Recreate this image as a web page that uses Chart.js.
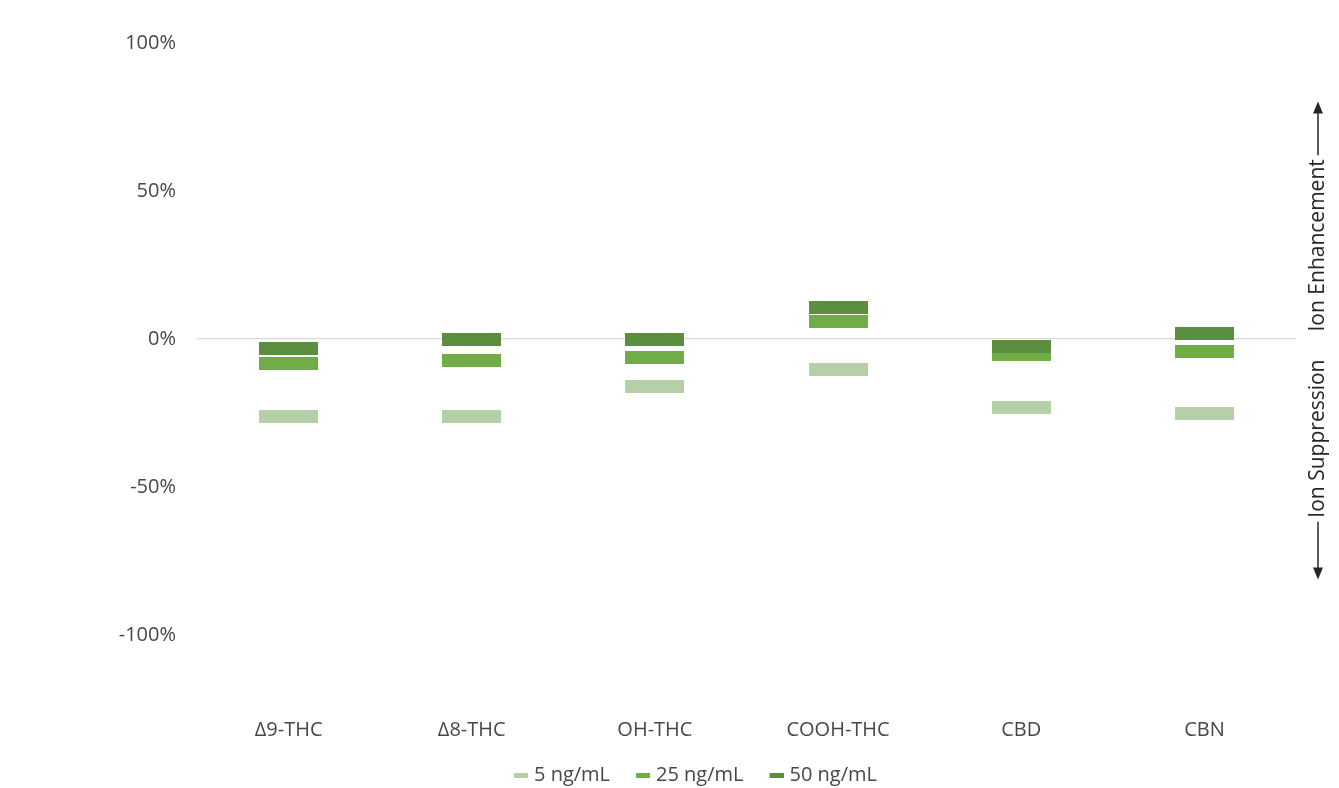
<!DOCTYPE html>
<html>
<head>
<meta charset="utf-8">
<script src="https://cdn.jsdelivr.net/npm/chart.js@4.4.1/dist/chart.umd.min.js"></script>
<style>
  html, body { margin: 0; padding: 0; background: #fff; }
  #wrap { width: 1339px; height: 788px; }
</style>
</head>
<body>
<div id="wrap"><canvas id="chart" width="1339" height="788"></canvas></div>
<script>
const categories = ['Δ9-THC', 'Δ8-THC', 'OH-THC', 'COOH-THC', 'CBD', 'CBN'];
const low = [-26.3, -26.3, -16.2, -10.2, -23.3, -25.3];      // 5 ng/mL
const mid = [-8.2, -7.2, -6.2, 5.8, -5.2, -4.2];             // 25 ng/mL
const high = [-3.3, -0.2, -0.2, 10.7, -2.4, 1.8];            // 50 ng/mL
const yTicks = [-100, -50, 0, 50, 100];

const FONT = '"Open Sans", sans-serif';
const TEXT = '#474747';

// solid dash marker, optionally padded with transparent space on the left
function dash(color, w, h, padLeft) {
    padLeft = padLeft || 0;
    const c = document.createElement('canvas');
    c.width = w + padLeft; c.height = h;
    const g = c.getContext('2d');
    g.fillStyle = color;
    g.fillRect(padLeft, 0, w, h);
    return c;
}

const colors = ['#b5cfa7', '#70ad47', '#5b8f3f'];

function series(label, data, color, order) {
    return {
        label: label,
        data: data,
        showLine: false,
        pointStyle: dash(color, 59, 13),
        legendStyle: dash(color, 14, 5, 11),
        pointRadius: 3,
        pointHoverRadius: 3,
        borderColor: color,
        backgroundColor: color,
        order: order
    };
}

const rightLabels = {
    id: 'rightLabels',
    afterDraw(chart) {
        const ctx = chart.ctx;
        const y0 = chart.scales.y.getPixelForValue(0);
        const x = 1318;
        ctx.save();
        ctx.fillStyle = '#262626';
        ctx.strokeStyle = '#262626';
        ctx.lineWidth = 1.5;
        ctx.font = '21px ' + FONT;
        ctx.textBaseline = 'middle';
        ctx.translate(x, y0 + 6.5);
        ctx.rotate(-Math.PI / 2);
        // up = +x in rotated frame
        ctx.textAlign = 'left';
        ctx.fillText('Ion Enhancement', 14, 0);
        const wE = ctx.measureText('Ion Enhancement').width;
        ctx.textAlign = 'right';
        ctx.fillText('Ion Suppression', -14, 0);
        const wS = ctx.measureText('Ion Suppression').width;
        const topTip = 244, botTip = -234;
        ctx.beginPath();
        ctx.moveTo(14 + wE + 4, 0); ctx.lineTo(topTip - 6, 0);
        ctx.moveTo(-14 - wS - 4, 0); ctx.lineTo(botTip + 6, 0);
        ctx.stroke();
        ctx.beginPath();
        ctx.moveTo(topTip, 0); ctx.lineTo(topTip - 12, -5); ctx.lineTo(topTip - 12, 5); ctx.closePath();
        ctx.moveTo(botTip, 0); ctx.lineTo(botTip + 12, -5); ctx.lineTo(botTip + 12, 5); ctx.closePath();
        ctx.fill();
        ctx.restore();
    }
};

new Chart(document.getElementById('chart').getContext('2d'), {
    type: 'line',
    data: {
        labels: categories,
        datasets: [
            series('5 ng/mL', low, colors[0], 2),
            series('25 ng/mL', mid, colors[1], 1),
            series('50 ng/mL', high, colors[2], 0)
        ]
    },
    options: {
        responsive: false,
        animation: false,
        events: [],
        layout: { padding: { top: 43, right: 43, left: 88, bottom: -7 } },
        scales: {
            x: {
                offset: true,
                grid: { display: false, drawTicks: false },
                border: { display: false },
                ticks: { color: TEXT, font: { family: FONT, size: 20 }, padding: 9 },
                afterFit(scale) { scale.height = 37; }
            },
            y: {
                min: -125,
                max: 100,
                afterBuildTicks(scale) { scale.ticks = yTicks.map(v => ({ value: v })); },
                grid: {
                    drawTicks: false,
                    color: c => (c.tick && c.tick.value === 0) ? '#d9d9d9' : 'rgba(0,0,0,0)',
                    lineWidth: 1.3
                },
                border: { display: false },
                ticks: {
                    color: TEXT,
                    font: { family: FONT, size: 20 },
                    padding: 21,
                    callback: v => v + '%'
                },
                afterFit(scale) { scale.width = 109; }
            }
        },
        plugins: {
            tooltip: { enabled: false },
            legend: {
                position: 'bottom',
                labels: {
                    usePointStyle: true,
                    pointStyleWidth: 17,
                    color: TEXT,
                    font: { family: FONT, size: 20 },
                    padding: 19,
                    generateLabels(chart) {
                        return chart.data.datasets.map((ds, i) => ({
                            text: ds.label,
                            pointStyle: ds.legendStyle,
                            fillStyle: ds.backgroundColor,
                            strokeStyle: ds.borderColor,
                            lineWidth: 0,
                            hidden: false,
                            datasetIndex: i,
                            fontColor: TEXT
                        }));
                    }
                }
            }
        }
    },
    plugins: [rightLabels]
});
</script>
</body>
</html>
